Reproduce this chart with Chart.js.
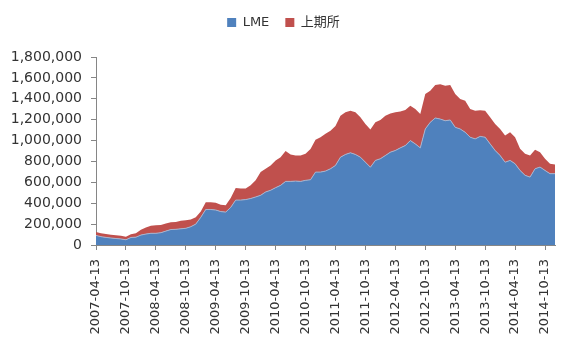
<!DOCTYPE html>
<html>
<head>
<meta charset="utf-8">
<script src="https://cdn.jsdelivr.net/npm/chart.js@4/dist/chart.umd.min.js"></script>
<style>
  html, body { margin: 0; padding: 0; background: #fff; }
  #wrap { width: 574px; height: 355px; position: relative; }
</style>
</head>
<body>
<div id="wrap"><canvas id="c" width="574" height="355"></canvas></div>
<script>
// Monthly sample dates (13th of each month), 2007-04 .. 2014-12
const dates = [
  "2007-04-13","2007-05-13","2007-06-13","2007-07-13","2007-08-13","2007-09-13",
  "2007-10-13","2007-11-13","2007-12-13","2008-01-13","2008-02-13","2008-03-13",
  "2008-04-13","2008-05-13","2008-06-13","2008-07-13","2008-08-13","2008-09-13",
  "2008-10-13","2008-11-13","2008-12-13","2009-01-13","2009-02-13","2009-03-13",
  "2009-04-13","2009-05-13","2009-06-13","2009-07-13","2009-08-13","2009-09-13",
  "2009-10-13","2009-11-13","2009-12-13","2010-01-13","2010-02-13","2010-03-13",
  "2010-04-13","2010-05-13","2010-06-13","2010-07-13","2010-08-13","2010-09-13",
  "2010-10-13","2010-11-13","2010-12-13","2011-01-13","2011-02-13","2011-03-13",
  "2011-04-13","2011-05-13","2011-06-13","2011-07-13","2011-08-13","2011-09-13",
  "2011-10-13","2011-11-13","2011-12-13","2012-01-13","2012-02-13","2012-03-13",
  "2012-04-13","2012-05-13","2012-06-13","2012-07-13","2012-08-13","2012-09-13",
  "2012-10-13","2012-11-13","2012-12-13","2013-01-13","2013-02-13","2013-03-13",
  "2013-04-13","2013-05-13","2013-06-13","2013-07-13","2013-08-13","2013-09-13",
  "2013-10-13","2013-11-13","2013-12-13","2014-01-13","2014-02-13","2014-03-13",
  "2014-04-13","2014-05-13","2014-06-13","2014-07-13","2014-08-13","2014-09-13",
  "2014-10-13","2014-11-13","2014-12-13"
];

// LME stocks (tonnes)
const lme = [
  92000, 80000, 73000, 67000, 62000, 58000,
  50000, 72000, 75000, 95000, 105000, 112000,
  112000, 118000, 133000, 148000, 150000, 155000,
  160000, 175000, 200000, 265000, 340000, 340000,
  335000, 320000, 315000, 360000, 430000, 430000,
  435000, 445000, 460000, 476000, 508000, 524000,
  549000, 571000, 609000, 609000, 612000, 609000,
  619000, 625000, 698000, 698000, 708000, 730000,
  762000, 841000, 867000, 883000, 867000, 841000,
  793000, 745000, 810000, 826000, 857000, 889000,
  905000, 930000, 952000, 1000000, 968000, 930000,
  1111000, 1175000, 1216000, 1206000, 1190000, 1197000,
  1127000, 1111000, 1079000, 1032000, 1016000, 1040000,
  1032000, 968000, 905000, 857000, 793000, 810000,
  778000, 714000, 667000, 650000, 730000, 746000,
  714000, 683000, 683000
];

// SHFE (上期所) stocks (tonnes), stacked on top of LME
const shfe = [
  33000, 32000, 32000, 31000, 31000, 30000,
  30000, 31000, 37000, 50000, 63000, 72000,
  78000, 74000, 73000, 70000, 70000, 77000,
  78000, 70000, 65000, 55000, 70000, 70000,
  70000, 65000, 65000, 90000, 115000, 110000,
  105000, 126000, 159000, 222000, 222000, 238000,
  261000, 270000, 291000, 258000, 245000, 248000,
  254000, 295000, 309000, 334000, 356000, 365000,
  378000, 397000, 403000, 403000, 403000, 381000,
  366000, 360000, 365000, 371000, 381000, 371000,
  365000, 349000, 340000, 333000, 334000, 324000,
  334000, 301000, 317000, 334000, 334000, 336000,
  318000, 286000, 302000, 270000, 270000, 250000,
  254000, 254000, 254000, 254000, 255000, 269000,
  254000, 207000, 206000, 207000, 181000, 143000,
  112000, 95000, 88000
];

const seriesNames = ["LME", "上期所"];
const yTicks = [0, 200000, 400000, 600000, 800000, 1000000, 1200000, 1400000, 1600000, 1800000];

const FONT = "'DejaVu Sans', 'Noto Sans CJK SC', sans-serif";
const AXIS = "#868686";
const TEXT = "#333333";

const legendGap = {
  id: 'legendGap',
  beforeInit(chart) {
    const orig = chart.legend.fit;
    chart.legend.fit = function () {
      orig.call(this);
      this.height += 18;
    };
  }
};

new Chart(document.getElementById('c'), {
  type: 'line',
  plugins: [legendGap],
  data: {
    labels: dates,
    datasets: [
      {
        label: seriesNames[0],
        data: lme,
        backgroundColor: '#4F81BD',
        borderColor: '#a9b3cc',
        borderWidth: 1,
        fill: 'origin',
        pointRadius: 0,
        tension: 0
      },
      {
        label: seriesNames[1],
        data: shfe,
        backgroundColor: '#C0504D',
        borderColor: '#C0504D',
        borderWidth: 0,
        fill: '-1',
        pointRadius: 0,
        tension: 0
      }
    ]
  },
  options: {
    responsive: false,
    animation: false,
    layout: { padding: { left: 12, right: 19, top: 0, bottom: 0 } },
    plugins: {
      tooltip: { enabled: false },
      legend: {
        position: 'top',
        labels: {
          boxWidth: 9,
          boxHeight: 9,
          color: TEXT,
          font: { family: FONT, size: 13 },
          padding: 16,
          generateLabels(chart) {
            return chart.data.datasets.map((d, i) => ({
              text: d.label,
              fillStyle: d.backgroundColor,
              strokeStyle: d.backgroundColor,
              lineWidth: 0,
              fontColor: TEXT,
              datasetIndex: i
            }));
          }
        }
      }
    },
    scales: {
      x: {
        type: 'category',
        offset: false,
        grid: { drawOnChartArea: false, color: AXIS, tickLength: 5 },
        border: { color: AXIS },
        ticks: {
          autoSkip: false,
          maxRotation: 90,
          minRotation: 90,
          padding: 9,
          color: TEXT,
          font: { family: FONT, size: 13 },
          callback(v, i) { return i % 6 === 0 ? dates[i] : null; }
        },
        afterFit(scale) { scale.height = 110; }
      },
      y: {
        stacked: true,
        min: 0,
        max: 1800000,
        afterBuildTicks(scale) { scale.ticks = yTicks.map(v => ({ value: v })); },
        grid: { drawOnChartArea: false, color: AXIS, tickLength: 5 },
        border: { color: AXIS },
        ticks: {
          padding: 9,
          color: TEXT,
          font: { family: FONT, size: 14 },
          callback(v) { return Number(v).toLocaleString('en-US'); }
        },
        afterFit(scale) { scale.width = 84; }
      }
    }
  }
});
</script>
</body>
</html>
